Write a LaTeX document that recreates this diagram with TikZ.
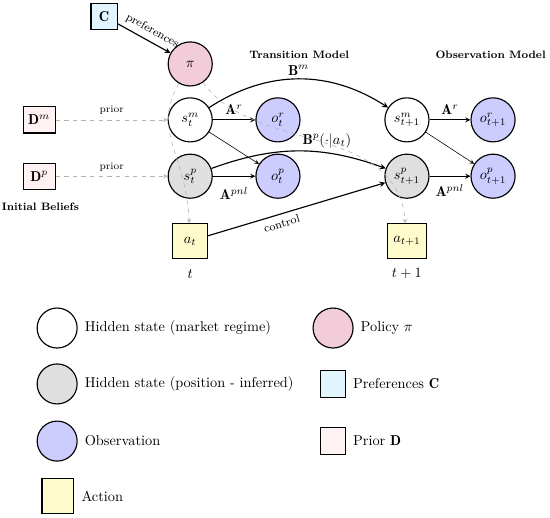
\documentclass[tikz,border=0pt]{standalone}
\usepackage{fontspec}
\usetikzlibrary{positioning}

\tikzset{
  hidden/.style={circle, draw, thick, minimum size=1.08cm, inner sep=0pt},
  observed/.style={hidden, fill=blue!20},
  param/.style={rectangle, draw, thick, inner sep=3pt, minimum size=0.64cm},
  action/.style={rectangle, draw, thick, fill=yellow!20, inner sep=4pt, minimum size=0.85cm},
  prior/.style={->, dashed, gray!60},
  lbl/.style={font=\fontsize{7.5}{9}\selectfont\bfseries}
}

\begin{document}
\begin{tikzpicture}[>=stealth]
\useasboundingbox (0,0) rectangle (13.475,12.667);

% model
\node[param, fill=cyan!12] (C) at (2.55,12.27) {$\mathbf{C}$};
\node[hidden, fill=purple!20] (pi) at (4.66,11.10) {$\pi$};
\node[lbl] (trans) at (7.33,11.32) {Transition Model};
\node[lbl] (obsm) at (12.02,11.32) {Observation Model};

\node[hidden] (smt) at (4.66,9.73) {$s_t^m$};
\node[observed] (ort) at (6.81,9.73) {$o_t^r$};
\node[hidden] (smn) at (9.97,9.73) {$s_{t+1}^m$};
\node[observed] (orn) at (12.08,9.73) {$o_{t+1}^r$};

\node[hidden, fill=gray!25] (spt) at (4.66,8.35) {$s_t^p$};
\node[observed] (opt) at (6.81,8.35) {$o_t^p$};
\node[hidden, fill=gray!25] (spn) at (9.97,8.35) {$s_{t+1}^p$};
\node[observed] (opn) at (12.08,8.35) {$o_{t+1}^p$};

\node[param, fill=red!5, minimum width=0.78cm] (Dm) at (0.96,9.73) {$\mathbf{D}^m$};
\node[param, fill=red!5, minimum width=0.78cm] (Dp) at (0.96,8.35) {$\mathbf{D}^p$};
\node[lbl] (ib) at (0.99,7.60) {Initial Beliefs};

\node[action] (at) at (4.66,6.76) {$a_t$};
\node[action] (an) at (9.97,6.76) {$a_{t+1}$};
\node (tt) at (4.66,5.96) {$t$};
\node (tn) at (9.97,5.96) {$t+1$};

% connectors
\draw[->, thick] (C) -- node[sloped, above, pos=0.56, font=\footnotesize] {preferences} (pi);
\draw[prior] (Dm) -- node[above, font=\scriptsize, text=black] {prior} (smt);
\draw[prior] (Dp) -- node[above, font=\scriptsize, text=black] {prior} (spt);

\draw[->, semithick] (smt) -- node[above] {$\mathbf{A}^r$} (ort);
\draw[->, semithick] (smn) -- node[above] {$\mathbf{A}^r$} (orn);
\draw[->, semithick] (spt) -- node[below=4pt] {$\mathbf{A}^{pnl}$} (opt);
\draw[->, semithick] (spn) -- node[below=2pt] {$\mathbf{A}^{pnl}$} (opn);
\draw[->] (smt) -- (opt);
\draw[->] (smn) -- (opn);

\draw[->, thick] (smt) to[bend left=33] node[above=-1pt] {$\mathbf{B}^m$} (smn);
\draw[->, thick] (spt) to[bend left=20] node[above, pos=0.67] {$\mathbf{B}^p(\cdot|a_t)$} (spn);
\draw[->, thick] (at) -- node[sloped, below, pos=0.4, font=\footnotesize] {control} (spn);

\draw[prior] (pi) to[out=-120, in=93, out looseness=1.0, in looseness=1.3] (at);
\draw[prior] (pi) to[out=-55, in=95, out looseness=0.9, in looseness=1.05] (an);

% legend
\node[hidden, minimum size=0.98cm] (lg1) at (1.40,4.63) {};
\node[right=0.05cm of lg1] (lt1) {Hidden state (market regime)};
\node[hidden, minimum size=0.98cm, fill=gray!25] (lg2) at (1.40,3.26) {};
\node[right=0.05cm of lg2] (lt2) {Hidden state (position - inferred)};
\node[observed, minimum size=0.98cm] (lg3) at (1.40,1.86) {};
\node[right=0.05cm of lg3] (lt3) {Observation};
\node[action, minimum width=0.78cm, minimum height=0.86cm] (lg4) at (1.42,0.51) {};
\node[right=0.05cm of lg4] (lt4) {Action};

\node[hidden, minimum size=0.98cm, fill=purple!20] (lg5) at (8.16,4.63) {};
\node[right=0.05cm of lg5] (lt5) {Policy $\pi$};
\node[param, fill=cyan!12, minimum width=0.61cm, minimum height=0.66cm] (lg6) at (8.16,3.26) {};
\node[right=0.05cm of lg6] (lt6) {Preferences $\mathbf{C}$};
\node[param, fill=red!5, minimum width=0.61cm, minimum height=0.66cm] (lg7) at (8.16,1.86) {};
\node[right=0.05cm of lg7] (lt7) {Prior $\mathbf{D}$};
\end{tikzpicture}
\end{document}
